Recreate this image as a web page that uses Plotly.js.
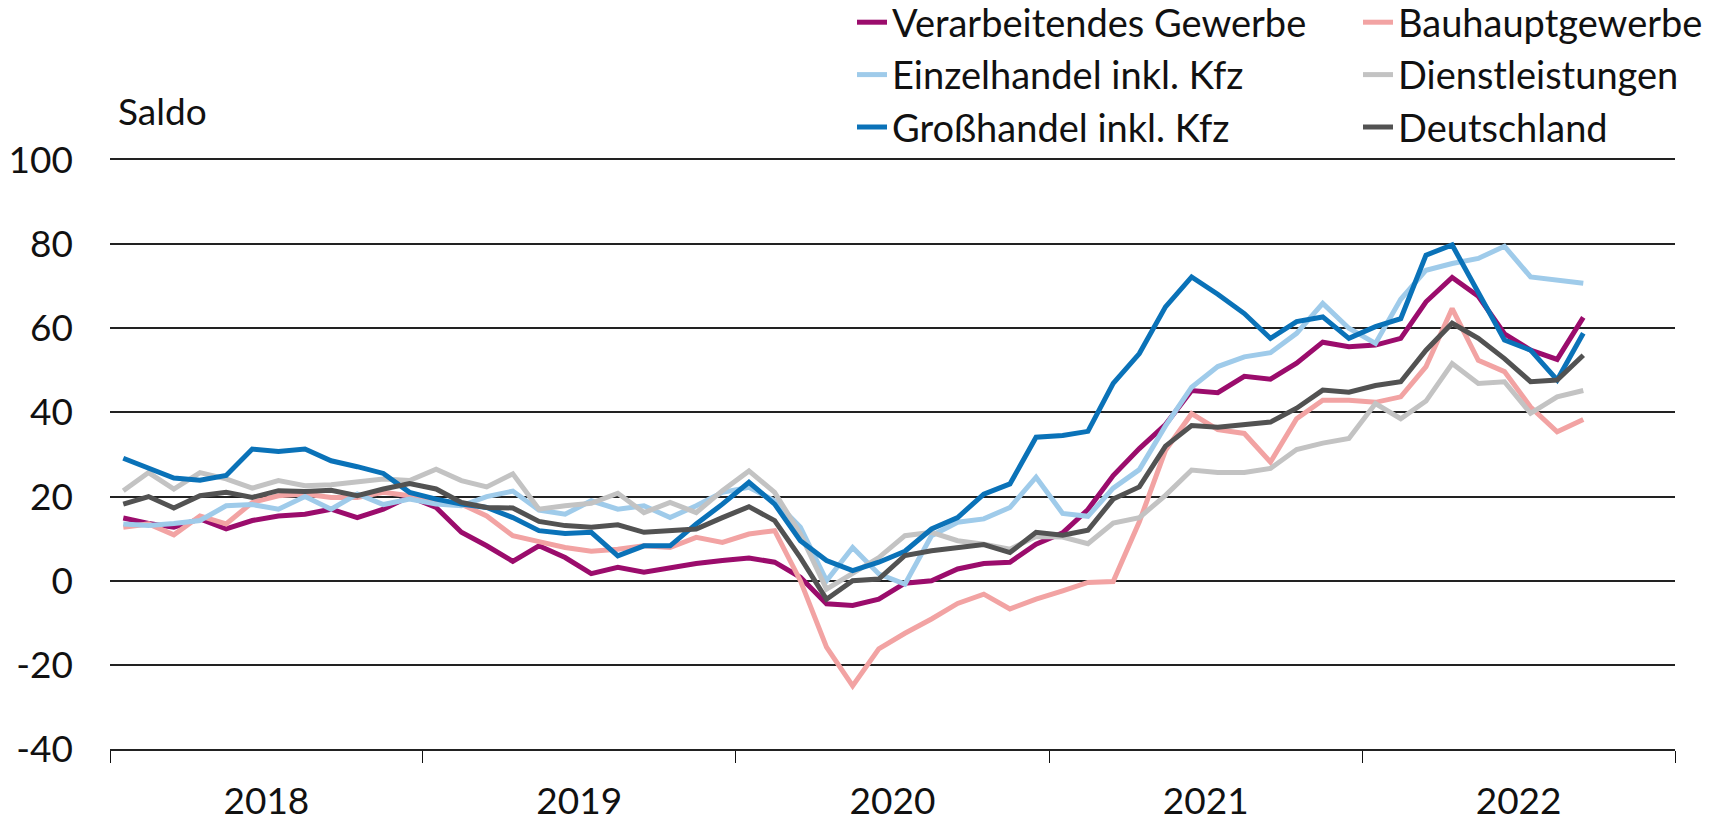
<!DOCTYPE html>
<html>
<head>
<meta charset="utf-8">
<script src="https://cdn.plot.ly/plotly-3.0.1.min.js"></script>
<style>
  html, body { margin: 0; padding: 0; background: #fff; }
  #chart { width: 1729px; height: 820px; }
</style>
</head>
<body>
<div id="chart"></div>
<script>
// Monthly observations, Jan 2018 – Sep 2022
const startYear = 2018;
const monthCount = 57;
const months = [];
for (let k = 0; k < monthCount; k++) {
  const y = startYear + Math.floor(k / 12);
  const m = (k % 12) + 1;
  months.push(y + '-' + (m < 10 ? '0' + m : m));
}

const seriesNames = ['Verarbeitendes Gewerbe', 'Bauhauptgewerbe', 'Einzelhandel inkl. Kfz',
                     'Dienstleistungen', 'Großhandel inkl. Kfz', 'Deutschland'];

const verarbeitendesGewerbe = [14.9, 13.6, 12.7, 14.7, 12.3, 14.3, 15.4, 15.8, 17.0, 15.0, 17.0, 20.0,
  17.4, 11.5, 8.3, 4.6, 8.3, 5.5, 1.7, 3.2, 2.0, 3.2, 4.1, 4.8,
  5.4, 4.4, 0.8, -5.5, -5.9, -4.4, -0.6, 0.0, 2.8, 4.1, 4.4, 8.7,
  11.4, 16.9, 25.0, 31.4, 37.1, 45.2, 44.7, 48.6, 47.9, 51.7, 56.7, 55.6,
  56.0, 57.6, 66.3, 72.1, 67.6, 58.7, 54.8, 52.6, 62.6];

const bauhauptgewerbe = [12.7, 13.5, 10.9, 15.4, 13.5, 18.6, 20.2, 20.6, 19.8, 19.8, 21.0, 20.2,
  19.0, 18.2, 15.4, 10.7, 9.3, 7.9, 7.0, 7.5, 8.3, 7.9, 10.3, 9.1,
  11.1, 11.9, 0.0, -15.8, -25.0, -16.2, -12.5, -9.1, -5.4, -3.2, -6.7, -4.4,
  -2.4, -0.4, -0.2, 14.0, 31.0, 39.7, 35.9, 35.0, 28.2, 38.5, 42.9, 42.9,
  42.4, 43.7, 50.9, 64.7, 52.4, 49.7, 41.3, 35.4, 38.3];

const einzelhandel = [13.5, 13.1, 13.6, 14.3, 17.8, 18.1, 17.0, 20.0, 17.0, 20.6, 18.1, 19.4,
  18.2, 17.8, 20.0, 21.3, 16.8, 15.8, 19.0, 17.0, 17.8, 15.0, 17.8, 21.0,
  22.2, 19.0, 12.7, 0.0, 7.9, 1.6, -0.8, 10.7, 13.9, 14.7, 17.4, 24.6,
  16.0, 15.3, 22.0, 26.4, 36.8, 46.0, 50.9, 53.2, 54.2, 58.8, 65.9, 60.0,
  56.4, 66.9, 73.8, 75.4, 76.6, 79.5, 72.2, 71.3, 70.7];

const dienstleistungen = [21.4, 25.7, 21.8, 25.7, 24.2, 22.0, 23.8, 22.6, 22.8, 23.4, 24.2, 23.8,
  26.5, 23.8, 22.3, 25.4, 17.0, 17.8, 18.4, 20.8, 16.2, 18.6, 16.2, 21.4,
  26.1, 21.0, 11.1, -2.0, 1.6, 5.5, 10.7, 11.5, 9.5, 8.7, 7.5, 10.5,
  10.4, 8.8, 13.7, 15.0, 20.3, 26.3, 25.7, 25.7, 26.7, 31.2, 32.7, 33.8,
  42.1, 38.5, 42.7, 51.6, 46.9, 47.3, 39.8, 43.7, 45.2];

const grosshandel = [29.1, 26.8, 24.4, 23.9, 25.0, 31.3, 30.7, 31.3, 28.5, 27.1, 25.5, 21.0,
  19.4, 18.2, 17.4, 15.0, 11.9, 11.2, 11.5, 5.9, 8.3, 8.3, 13.5, 18.2,
  23.4, 18.2, 9.5, 4.8, 2.4, 4.4, 7.0, 12.3, 15.0, 20.6, 23.0, 34.1,
  34.5, 35.5, 46.9, 54.0, 65.1, 72.2, 68.1, 63.5, 57.6, 61.6, 62.7, 57.6,
  60.4, 62.3, 77.4, 79.8, 68.3, 57.2, 54.8, 47.7, 58.8];

const deutschland = [18.2, 20.0, 17.3, 20.2, 21.0, 19.8, 21.4, 21.2, 21.5, 20.2, 21.8, 23.1,
  21.8, 18.6, 17.4, 17.3, 14.1, 13.1, 12.7, 13.3, 11.5, 11.9, 12.3, 15.0,
  17.6, 14.3, 5.5, -4.4, 0.0, 0.4, 6.0, 7.1, 7.9, 8.6, 6.7, 11.5,
  10.8, 12.0, 19.4, 22.3, 32.0, 36.9, 36.5, 37.2, 37.7, 41.0, 45.3, 44.8,
  46.4, 47.3, 54.8, 61.2, 57.6, 52.8, 47.3, 47.7, 53.6];

const yTickValues = [-40, -20, 0, 20, 40, 60, 80, 100];
const yTickLabels = ['-40', '-20', '0', '20', '40', '60', '80', '100'];
const yAxisLabel = 'Saldo';

const colors = ['#9b0c6c', '#f2a3a3', '#9fcbea', '#c3c3c3', '#0a72b8', '#525252'];
const legendOf = ['legend', 'legend2', 'legend', 'legend2', 'legend', 'legend2'];
const allValues = [verarbeitendesGewerbe, bauhauptgewerbe, einzelhandel, dienstleistungen, grosshandel, deutschland];

const FONT = 'Lato, "Noto Sans", sans-serif';
const FS = 37;
const LFS = 38;

const traces = allValues.map((vals, idx) => ({
  type: 'scatter',
  mode: 'lines',
  name: seriesNames[idx],
  x: months,
  y: vals,
  xperiod: 'M1',
  xperiodalignment: 'middle',
  line: { color: colors[idx], width: 5 },
  legend: legendOf[idx],
  hoverinfo: 'x+y+name'
}));

const legendBase = {
  xref: 'paper', yref: 'paper',
  xanchor: 'left', yanchor: 'top',
  y: 1 + 169 / 589,
  bgcolor: 'rgba(0,0,0,0)',
  borderwidth: 0,
  font: { family: FONT, size: LFS, color: '#111' },
  orientation: 'v',
  traceorder: 'normal'
};

const layout = {
  width: 1729,
  height: 820,
  margin: { l: 110, r: 54, t: 160, b: 71, autoexpand: false },
  paper_bgcolor: '#fff',
  plot_bgcolor: '#fff',
  font: { family: FONT, size: FS, color: '#111' },
  showlegend: true,
  legend: Object.assign({}, legendBase, { x: (852 - 110) / 1565 }),
  legend2: Object.assign({}, legendBase, { x: (1358 - 110) / 1565 }),
  xaxis: {
    type: 'date',
    range: ['2018-01-01', '2023-01-01'],
    tick0: '2018-01-01',
    dtick: 'M12',
    tickformat: '%Y',
    ticklabelmode: 'period',
    ticks: 'outside',
    ticklen: 12,
    tickwidth: 1.2,
    tickcolor: '#111',
    ticklabelstandoff: 6,
    showgrid: false,
    zeroline: false,
    showline: true,
    linecolor: '#222',
    linewidth: 2.2,
    mirror: true,
    tickangle: 0,
    tickfont: { family: FONT, size: FS, color: '#111' },
    fixedrange: true
  },
  yaxis: {
    range: [-40, 100],
    tickmode: 'array',
    tickvals: yTickValues,
    ticktext: yTickLabels,
    ticks: '',
    showgrid: true,
    gridcolor: '#222',
    gridwidth: 2.2,
    zeroline: false,
    showline: false,
    ticklabelstandoff: 36,
    tickfont: { family: FONT, size: FS, color: '#111' },
    fixedrange: true
  },
  annotations: [{
    text: yAxisLabel,
    xref: 'paper', yref: 'paper',
    x: 0, y: 1,
    xanchor: 'left', yanchor: 'middle',
    xshift: 6, yshift: 50,
    showarrow: false,
    font: { family: FONT, size: FS, color: '#111' }
  }]
};

Plotly.newPlot('chart', traces, layout, { displayModeBar: false });
</script>
</body>
</html>
